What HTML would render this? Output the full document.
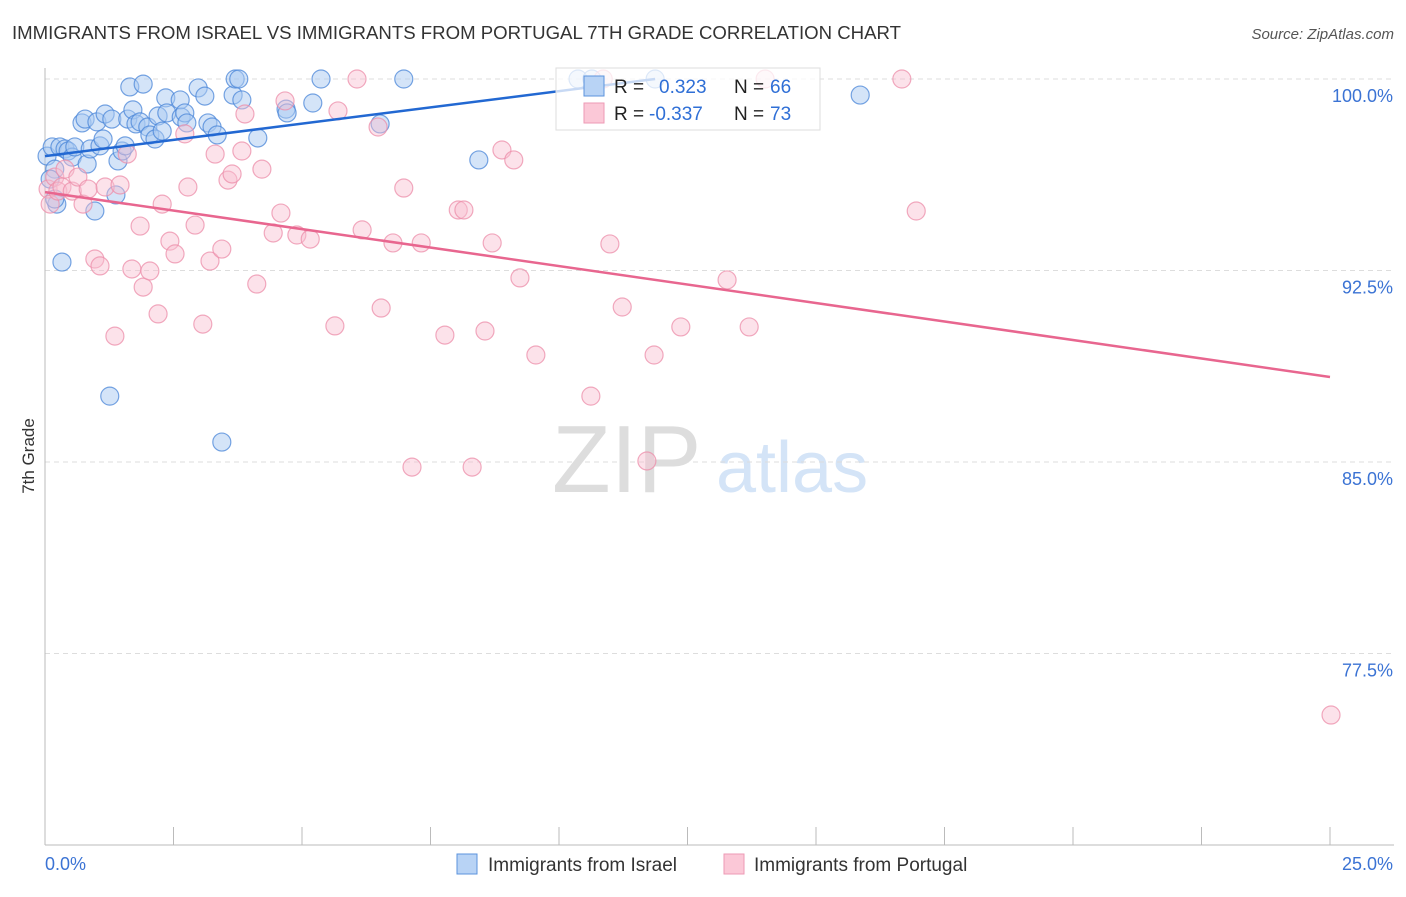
<!DOCTYPE html>
<html><head><meta charset="utf-8"><style>
body{margin:0;background:#fff;font-family:"Liberation Sans",sans-serif;}
svg text{font-family:"Liberation Sans",sans-serif;}
</style></head><body>
<svg id="chart" width="1406" height="892" xmlns="http://www.w3.org/2000/svg">
<text x="12" y="39" font-size="18" fill="#333" textLength="889" lengthAdjust="spacingAndGlyphs">IMMIGRANTS FROM ISRAEL VS IMMIGRANTS FROM PORTUGAL 7TH GRADE CORRELATION CHART</text>
<text x="1394" y="39" font-size="15" fill="#555" text-anchor="end" font-style="italic">Source: ZipAtlas.com</text>
<text x="34" y="456" font-size="17" fill="#333" text-anchor="middle" transform="rotate(-90 34 456)">7th Grade</text>
<g>
<text x="552" y="492" font-size="96" fill="#ddd" font-family="Liberation Serif">ZIP</text>
<text x="716" y="492" font-size="72" fill="#d4e4f7">atlas</text>
</g>
<g id="grid"></g><g id="axes"></g><g id="pts"></g><g id="trends"></g>
<g>
<rect x="556" y="68" width="264" height="62" fill="#fff" fill-opacity="0.75" stroke="#ddd"/>
<rect x="584" y="76" width="20" height="20" fill="#b8d3f5" stroke="#5b93dd"/>
<rect x="584" y="103" width="20" height="20" fill="#fbc8d7" stroke="#ee9ab4"/>
<text x="614" y="93" font-size="19" fill="#222">R = </text><text x="659" y="93" font-size="19" fill="#2f6fd6">0.323</text>
<text x="734" y="93" font-size="19" fill="#222">N = </text><text x="770" y="93" font-size="19" fill="#2f6fd6">66</text>
<text x="614" y="120" font-size="19" fill="#222">R = </text><text x="649" y="120" font-size="19" fill="#2f6fd6">-0.337</text>
<text x="734" y="120" font-size="19" fill="#222">N = </text><text x="770" y="120" font-size="19" fill="#2f6fd6">73</text>
</g>
<g>
<rect x="457" y="854" width="20" height="20" fill="#b8d3f5" stroke="#5b93dd"/>
<text x="488" y="871" font-size="19" fill="#333">Immigrants from Israel</text>
<rect x="724" y="854" width="20" height="20" fill="#fbc8d7" stroke="#ee9ab4"/>
<text x="754" y="871" font-size="19" fill="#333">Immigrants from Portugal</text>
</g>
</svg>
<script>
const yTicks=[100,92.5,85,77.5];
const yTickLabels=["100.0%","92.5%","85.0%","77.5%"];
const xTickCount=10;
const xLabels=["0.0%","25.0%"];
const israelX=[0.04,0.14,0.19,0.23,0.29,0.33,0.39,0.45,0.53,0.58,0.72,0.78,0.82,0.88,0.97,1.01,1.07,1.13,1.17,1.26,1.30,1.38,1.42,1.50,1.56,1.61,1.65,1.71,1.77,1.85,1.91,2.00,2.04,2.14,2.20,2.28,2.35,2.37,2.63,2.65,2.72,2.76,2.98,3.11,3.17,3.25,3.35,3.44,3.66,3.70,3.77,3.83,4.14,4.69,4.71,5.21,5.37,6.52,6.98,8.44,10.37,10.64,11.87,15.86,0.10,0.19];
const israelY=[96.98,97.34,96.47,95.10,97.34,92.83,97.26,97.18,96.94,97.34,98.28,98.43,96.67,97.26,94.83,98.32,97.38,97.65,98.63,87.58,98.43,95.46,96.79,97.18,97.38,98.43,99.69,98.79,98.24,98.32,99.80,98.12,97.81,97.65,98.55,97.96,99.26,98.67,99.18,98.51,98.67,98.28,99.65,99.33,98.28,98.12,97.81,85.78,99.37,100,100,99.18,97.69,98.82,98.67,99.06,100,98.24,100,96.83,100,100,100,99.37,96.08,95.30];
const portugalX=[0.06,0.10,0.19,0.25,0.33,0.39,0.53,0.64,0.74,0.84,0.97,1.07,1.17,1.36,1.46,1.60,1.69,1.85,1.91,2.04,2.20,2.28,2.43,2.53,2.72,2.78,2.92,3.07,3.21,3.31,3.44,3.56,3.64,3.83,3.89,4.12,4.22,4.44,4.59,4.67,4.90,5.16,5.64,5.70,6.07,6.17,6.48,6.54,6.77,6.98,7.14,7.32,7.78,8.04,8.15,8.31,8.56,8.70,8.89,9.12,9.24,9.55,10.62,10.86,10.99,11.23,11.71,11.85,12.37,13.27,13.70,14.01,16.67,16.95,25.02];
const portugalY=[95.69,95.10,96.16,95.61,95.77,96.47,95.61,96.16,95.10,95.69,92.95,92.68,95.77,89.93,95.85,97.06,92.56,94.24,91.85,92.48,90.80,95.10,93.65,93.15,97.85,95.77,94.28,90.40,92.87,97.06,93.34,96.04,96.28,97.18,98.63,91.97,96.47,93.97,94.75,99.14,93.89,93.73,90.33,98.75,100,94.09,98.12,91.03,93.58,95.73,84.80,93.58,89.97,94.87,94.87,84.80,90.13,93.58,97.22,96.83,92.21,89.19,87.58,100,93.54,91.07,85.04,89.19,90.29,92.13,90.29,100,100,94.83,75.09];
const israelTrendX=[0,11.87];
const israelTrendY=[96.98,100.0];
const portugalTrendX=[0,25];
const portugalTrendY=[95.57,88.33];

const NS="http://www.w3.org/2000/svg";
const X0=45,X1=1330,YTOP=79,YBOT=845,VMIN=70,VMAX=100;
function sx(v){return X0+v/25*(X1-X0);}
function sy(v){return YTOP+(VMAX-v)/(VMAX-VMIN)*(YBOT-YTOP);}
function mk(tag,attrs,parent){const e=document.createElementNS(NS,tag);for(const k in attrs)e.setAttribute(k,attrs[k]);parent.appendChild(e);return e;}
const grid=document.getElementById('grid'),axes=document.getElementById('axes'),pts=document.getElementById('pts'),tr=document.getElementById('trends');
yTicks.forEach((t,i)=>{
  const l=mk('line',{x1:X0,x2:1394,y1:sy(t),y2:sy(t),stroke:'#ddd','stroke-dasharray':'5,4'},grid);
  
  
  const tx=mk('text',{x:1393,y:sy(t)+23,'font-size':18,fill:'#3b73d4','text-anchor':'end'},axes);
  tx.textContent=yTickLabels[i];
  
  
});
const ax=mk('line',{x1:X0,x2:1394,y1:YBOT,y2:YBOT,stroke:'#bbb'},axes);


const ay=mk('line',{x1:X0,x2:X0,y1:68,y2:YBOT,stroke:'#bbb'},axes);


for(let i=0;i<=xTickCount;i++){
  const v=25*i/xTickCount;
  const t=mk('line',{x1:sx(v),x2:sx(v),y1:YBOT,y2:YBOT-18,stroke:'#bbb'},axes);
  
  
}
const xl0=mk('text',{x:45,y:870,'font-size':18,fill:'#3b73d4'},axes);xl0.textContent=xLabels[0];


const xl1=mk('text',{x:1393,y:870,'font-size':18,fill:'#3b73d4','text-anchor':'end'},axes);xl1.textContent=xLabels[1];


israelX.forEach((v,i)=>{
  const c=mk('circle',{cx:sx(v),cy:sy(israelY[i]),r:9,fill:'#a9c9f2','fill-opacity':0.5,stroke:'#4a86d8','stroke-opacity':0.75,'stroke-width':1.2},pts);
  
  
});
portugalX.forEach((v,i)=>{
  const c=mk('circle',{cx:sx(v),cy:sy(portugalY[i]),r:9,fill:'#f9bfd0','fill-opacity':0.45,stroke:'#ec8eaa','stroke-opacity':0.75,'stroke-width':1.2},pts);
  
  
});
const bl=mk('line',{x1:sx(israelTrendX[0]),y1:sy(israelTrendY[0]),x2:sx(israelTrendX[1]),y2:sy(israelTrendY[1]),stroke:'#2268d2','stroke-width':2.5},tr);


const pl=mk('line',{x1:sx(portugalTrendX[0]),y1:sy(portugalTrendY[0]),x2:sx(portugalTrendX[1]),y2:sy(portugalTrendY[1]),stroke:'#e8668f','stroke-width':2.5},tr);


</script>
</body></html>
